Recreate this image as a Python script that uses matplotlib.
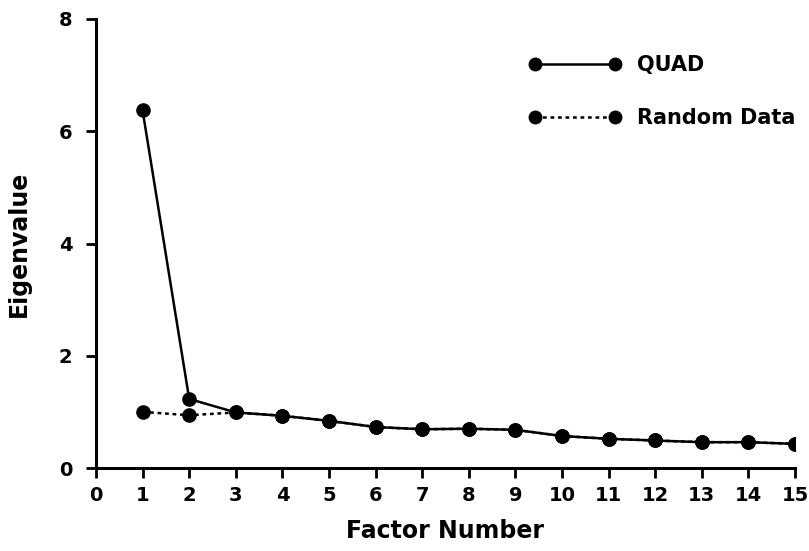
import matplotlib
matplotlib.use("Agg")
import matplotlib.pyplot as plt
from matplotlib.lines import Line2D

factors = list(range(1, 16))
quad = [6.37, 1.23, 0.99, 0.93, 0.84, 0.73, 0.69, 0.70, 0.68, 0.57, 0.52, 0.49, 0.46, 0.46, 0.43]
random_data = [1.00, 0.94, 0.99, 0.93, 0.84, 0.73, 0.69, 0.70, 0.68, 0.57, 0.52, 0.49, 0.46, 0.46, 0.43]
x_ticks = list(range(0, 16))
y_ticks = [0, 2, 4, 6, 8]

plt.rcParams['font.family'] = ['DejaVu Sans']
plt.rcParams['font.weight'] = 'bold'

fig = plt.figure(figsize=(8.09, 5.51), dpi=100)
ax = fig.add_axes([96/809, 83/551, (795-96)/809, (468-19)/551])

ax.plot(factors, random_data, color='black', lw=1.8, ls=(0, (1.5, 1.5)),
        marker='o', ms=9.5, mfc='black', mec='black')
ax.plot(factors, quad, color='black', lw=1.8, ls='-',
        marker='o', ms=9.5, mfc='black', mec='black')

ax.set_xlim(0, 15)
ax.set_ylim(0, 8)
ax.set_xticks(x_ticks)
ax.set_yticks(y_ticks)
ax.tick_params(axis='both', direction='out', length=7, width=2, labelsize=14)
ax.tick_params(axis='x', pad=6)
ax.tick_params(axis='y', pad=10)
for lab in ax.get_xticklabels() + ax.get_yticklabels():
    lab.set_fontweight('bold')
for s in ['top', 'right']:
    ax.spines[s].set_visible(False)
for s in ['left', 'bottom']:
    ax.spines[s].set_linewidth(2.2)

ax.set_xlabel('Factor Number', fontsize=17, fontweight='bold', labelpad=10)
ax.set_ylabel('Eigenvalue', fontsize=17, fontweight='bold', labelpad=20)

handles = [
    Line2D([], [], color='black', lw=1.8, ls='-', marker='o', ms=9),
    Line2D([], [], color='black', lw=1.8, ls=(0, (1.5, 1.5)), marker='o', ms=9),
]
leg = ax.legend(handles, ['QUAD', 'Random Data'], loc='upper left',
                bbox_to_anchor=(529/809, (551-55)/551), bbox_transform=fig.transFigure,
                frameon=False, numpoints=2, handlelength=4.45, handletextpad=0.75,
                labelspacing=1.6, borderpad=0, borderaxespad=0,
                prop={'size': 15, 'weight': 'bold'})

fig.savefig('out.png', dpi=100)
